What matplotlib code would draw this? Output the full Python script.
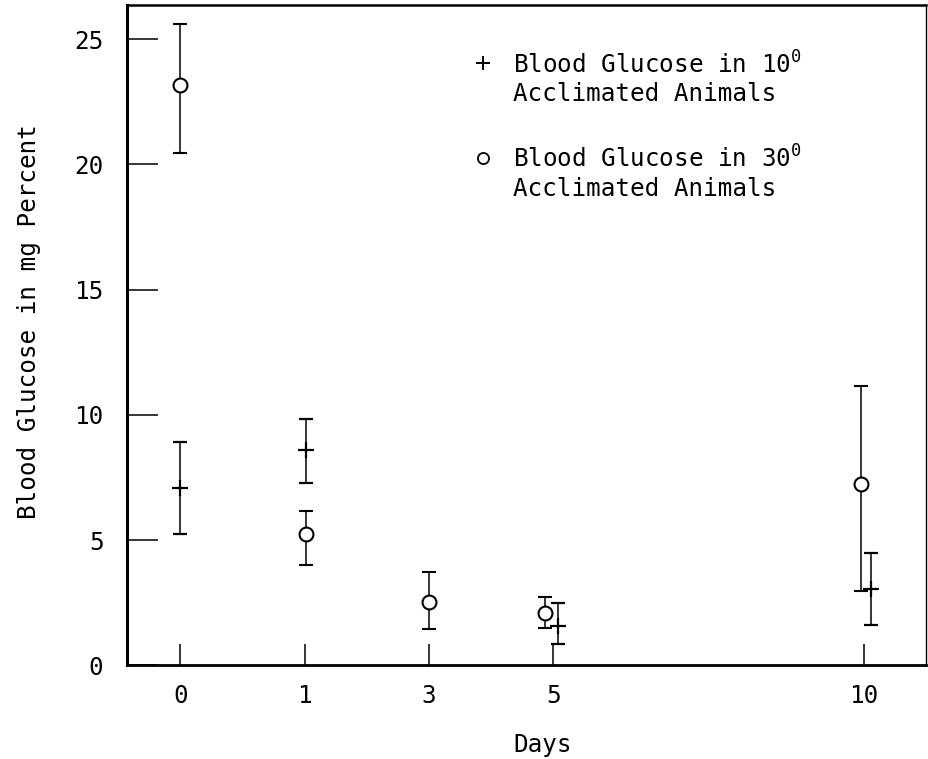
import matplotlib.pyplot as plt
import numpy as np

# ----- Data -------------------------------------------------------------------------------------------------------- #

DAY_LABELS = ['0', '1', '3', '5', '10']
DAY_SLOTS = [0, 1, 2, 3, 5.5]          # the original axis is not to scale

# Blood glucose in 10 degree acclimated animals (+)
COLD_DAYS = ['0', '1', '5', '10']
COLD_MEAN = [7.07, 8.59, 1.57, 3.04]
COLD_UPPER = [8.92, 9.85, 2.49, 4.48]
COLD_LOWER = [5.24, 7.27, 0.84, 1.61]
COLD_NUDGE = [0.0, 0.01, 0.04, 0.055]

# Blood glucose in 30 degree acclimated animals (o)
WARM_DAYS = ['0', '1', '3', '5', '10']
WARM_MEAN = [23.15, 5.23, 2.52, 2.09, 7.26]
WARM_UPPER = [25.6, 6.15, 3.73, 2.75, 11.15]
WARM_LOWER = [20.45, 4.0, 1.47, 1.50, 2.99]
WARM_NUDGE = [0.0, 0.01, 0.0, -0.065, -0.02]

FONT_SIZE = 17.5


def slot_positions(days, nudge):
    lookup = dict(zip(DAY_LABELS, DAY_SLOTS))
    return np.array([lookup[d] for d in days]) + np.array(nudge)


def main():
    plt.rcParams['font.family'] = ['DejaVu Sans Mono']
    plt.rcParams['mathtext.fontset'] = 'custom'
    plt.rcParams['mathtext.rm'] = 'DejaVu Sans Mono'
    fig = plt.figure(figsize=(9.29, 7.59), dpi=100)
    ax = fig.add_axes([0.1367, 0.1232, 0.86, 0.8702])

    # ----- Error bars ----- #
    x_cold = slot_positions(COLD_DAYS, COLD_NUDGE)
    cold_mean = np.array(COLD_MEAN)
    cold_err = [cold_mean - np.array(COLD_LOWER), np.array(COLD_UPPER) - cold_mean]
    ax.errorbar(x_cold, cold_mean, yerr=cold_err, fmt='+', color='black', markersize=11,
                markeredgewidth=1.6, elinewidth=1.1, capsize=5, capthick=1.5, zorder=3)

    x_warm = slot_positions(WARM_DAYS, WARM_NUDGE)
    warm_mean = np.array(WARM_MEAN)
    warm_err = [warm_mean - np.array(WARM_LOWER), np.array(WARM_UPPER) - warm_mean]
    ax.errorbar(x_warm, warm_mean, yerr=warm_err, fmt='o', color='black', markerfacecolor='white',
                markersize=10, markeredgewidth=1.5, elinewidth=1.1, capsize=5, capthick=1.5, zorder=3)

    # ----- Axes ----- #
    ax.set_xlim(-0.43, 6.0)
    ax.set_ylim(0, 26.36)
    ax.set_xticks(DAY_SLOTS)
    ax.set_xticklabels(DAY_LABELS)
    ax.set_yticks([0, 5, 10, 15, 20, 25])
    ax.tick_params(axis='y', direction='in', length=22, width=1.1, pad=17, labelsize=FONT_SIZE)
    ax.tick_params(axis='x', direction='in', length=15, width=1.1, pad=13, labelsize=FONT_SIZE)

    ax.spines['left'].set_linewidth(2.2)
    ax.spines['bottom'].set_linewidth(2.0)
    ax.spines['top'].set_linewidth(1.8)
    ax.spines['right'].set_linewidth(1.0)

    ax.set_ylabel('Blood Glucose in mg Percent', fontsize=FONT_SIZE)
    ax.yaxis.set_label_coords(-0.108, 0.52)
    ax.set_xlabel('Days', fontsize=FONT_SIZE)
    ax.xaxis.set_label_coords(0.52, -0.102)

    # ----- Key ----- #
    ax.plot([0.4456], [0.912], marker='+', color='black', markersize=10, markeredgewidth=1.4,
            transform=ax.transAxes, linestyle='none')
    ax.text(0.483, 0.93, 'Blood Glucose in 10$^{0}$\nAcclimated Animals', transform=ax.transAxes,
            fontsize=FONT_SIZE, va='top', ha='left', linespacing=1.2)
    ax.plot([0.4456], [0.769], marker='o', color='black', markerfacecolor='white', markersize=8,
            markeredgewidth=1.3, transform=ax.transAxes, linestyle='none')
    ax.text(0.483, 0.787, 'Blood Glucose in 30$^{0}$\nAcclimated Animals', transform=ax.transAxes,
            fontsize=FONT_SIZE, va='top', ha='left', linespacing=1.2)

    fig.savefig('out.png', dpi=100)
    plt.close(fig)


if __name__ == "__main__":
    main()
